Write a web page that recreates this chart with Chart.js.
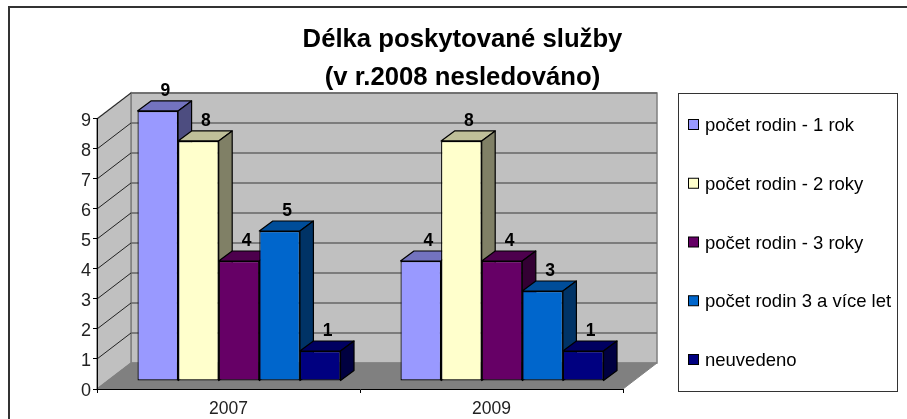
<!DOCTYPE html>
<html>
<head>
<meta charset="utf-8">
<title>Délka poskytované služby</title>
<script src="https://cdn.jsdelivr.net/npm/chart.js@4/dist/chart.umd.js"></script>
<style>
  html, body { margin: 0; padding: 0; background: #fff; }
  .chart-box { position: relative; width: 907px; height: 419px; }
</style>
</head>
<body>
<div class="chart-box"><canvas id="chart"></canvas></div>
<script>
const years = ['2007', '2009'];
const seriesNames = ['počet rodin - 1 rok', 'počet rodin - 2 roky', 'počet rodin - 3 roky', 'počet rodin 3 a více let', 'neuvedeno'];
const oneYear = [9, 4];
const twoYears = [8, 8];
const threeYears = [4, 4];
const threePlus = [5, 3];
const notGiven = [1, 1];
const seriesValues = [oneYear, twoYears, threeYears, threePlus, notGiven];
const frontColors = ['#9999ff', '#ffffcc', '#660066', '#0066cc', '#000080'];
const topColors = ['#7373bf', '#bfbf99', '#4d004d', '#004d99', '#000060'];
const sideColors = ['#4d4d80', '#808066', '#330033', '#003366', '#000040'];
const titleLines = ['Délka poskytované služby', '(v r.2008 nesledováno)'];

const FONT = '"Liberation Sans", Arial, sans-serif';
// 3d look: how far the back wall and the bars are pushed from the front plane
const wallDx = 34, wallDy = -26;
const barDx = 10.5, barDy = -8;
const sideDx = 13.5, sideDy = -10;

function fillPoly(ctx, pts, fill, stroke, lineW) {
  ctx.beginPath();
  pts.forEach((p, i) => (i ? ctx.lineTo(p[0], p[1]) : ctx.moveTo(p[0], p[1])));
  ctx.closePath();
  ctx.fillStyle = fill;
  ctx.fill();
  if (stroke) {
    ctx.strokeStyle = stroke;
    ctx.lineWidth = lineW;
    ctx.stroke();
  }
}

function drawLine(ctx, x1, y1, x2, y2, color, lineW) {
  ctx.beginPath();
  ctx.moveTo(x1, y1);
  ctx.lineTo(x2, y2);
  ctx.strokeStyle = color;
  ctx.lineWidth = lineW;
  ctx.stroke();
}

const box3d = {
  id: 'box3d',
  afterLayout(chart) {
    // title is centred over the whole picture, not only the plot
    chart.titleBlock.left = 18;
    chart.titleBlock.right = 907;
    // the value labels sit a little under their ticks
    chart.scales.y.getLabelItems().forEach(item => { item.options.translation[1] += 2; });
  },
  beforeDraw(chart) {
    const ctx = chart.ctx;
    const { left, right, top, bottom } = chart.chartArea;
    ctx.save();

    // outer frame, cut by the right and bottom edge of the picture
    drawLine(ctx, 9, 419, 9, 7, '#333', 2);
    drawLine(ctx, 8, 7, 907, 7, '#333', 2);

    fillPoly(ctx, [[left + wallDx, top + wallDy], [right + wallDx, top + wallDy], [right + wallDx, bottom + wallDy], [left + wallDx, bottom + wallDy]], '#c0c0c0', '#808080', 1.5);
    fillPoly(ctx, [[left, top], [left + wallDx, top + wallDy], [left + wallDx, bottom + wallDy], [left, bottom]], '#c0c0c0', '#808080', 1.5);
    fillPoly(ctx, [[left, bottom], [left + wallDx, bottom + wallDy], [right + wallDx, bottom + wallDy], [right, bottom]], '#808080', '#808080', 1);

    const y = chart.scales.y;
    y.ticks.forEach(t => {
      if (t.value === 0) return;
      const py = y.getPixelForValue(t.value);
      drawLine(ctx, left, py, left + wallDx, py + wallDy, '#222', 1);
      drawLine(ctx, left + wallDx, py + wallDy, right + wallDx, py + wallDy, '#666', 1.5);
    });

    // legend box
    ctx.fillStyle = '#fff';
    ctx.fillRect(678, 93, 219, 298);
    ctx.strokeStyle = '#333';
    ctx.lineWidth = 1;
    ctx.strokeRect(678.5, 93.5, 219, 298);
    ctx.font = '18.5px ' + FONT;
    ctx.textBaseline = 'middle';
    seriesNames.forEach((name, i) => {
      const rowY = 125 + i * 58.75;
      ctx.fillStyle = frontColors[i];
      ctx.fillRect(688.5, rowY - 5.5, 10, 10);
      ctx.strokeStyle = '#000';
      ctx.strokeRect(688.5, rowY - 5.5, 10, 10);
      ctx.fillStyle = '#000';
      ctx.fillText(name, 705, rowY + 1);
    });
    ctx.restore();
  },
  beforeDatasetsDraw(chart) {
    // tops and sides go left to right so later bars cover earlier ones
    const ctx = chart.ctx;
    ctx.save();
    ctx.lineJoin = 'round';
    years.forEach((year, c) => {
      seriesNames.forEach((name, s) => {
        const bar = chart.getDatasetMeta(s).data[c];
        const x2 = bar.x + bar.width / 2 + barDx;
        const x1 = bar.x - bar.width / 2 + barDx;
        const yTop = bar.y + barDy;
        const yBase = bar.base + barDy;
        fillPoly(ctx, [[x1, yTop], [x1 + sideDx, yTop + sideDy], [x2 + sideDx, yTop + sideDy], [x2, yTop]], topColors[s], '#000', 1.2);
        fillPoly(ctx, [[x2, yTop], [x2 + sideDx, yTop + sideDy], [x2 + sideDx, yBase + sideDy], [x2, yBase]], sideColors[s], '#000', 1.2);
      });
    });
    ctx.restore();
  },
  beforeDatasetDraw(chart) {
    chart.ctx.save();
    chart.ctx.translate(barDx, barDy);
  },
  afterDatasetDraw(chart) {
    chart.ctx.restore();
  },
  afterDatasetsDraw(chart) {
    const ctx = chart.ctx;
    ctx.save();
    ctx.font = 'bold 17.5px ' + FONT;
    ctx.fillStyle = '#000';
    ctx.textAlign = 'center';
    ctx.textBaseline = 'middle';
    seriesValues.forEach((values, s) => {
      values.forEach((v, c) => {
        const bar = chart.getDatasetMeta(s).data[c];
        ctx.fillText(v, bar.x + barDx + 7.5, bar.y + barDy - 20);
      });
    });
    ctx.restore();
  },
};

new Chart(document.getElementById('chart'), {
  type: 'bar',
  data: {
    labels: years,
    datasets: seriesNames.map((name, i) => ({
      label: name,
      data: seriesValues[i],
      backgroundColor: frontColors[i],
      borderColor: '#000',
      borderWidth: 1.2,
      borderSkipped: false,
      clip: false,
    })),
  },
  options: {
    responsive: true,
    maintainAspectRatio: false,
    animation: false,
    layout: { padding: { left: 0, right: 284, top: 0, bottom: 0 } },
    datasets: { bar: { categoryPercentage: 0.772, barPercentage: 1 } },
    plugins: {
      legend: { display: false },
      tooltip: { enabled: false },
      title: {
        display: true,
        text: titleLines,
        color: '#000',
        font: { family: FONT, size: 25.7, weight: 'bold', lineHeight: 1.478 },
        padding: { top: 21, bottom: 22 },
      },
    },
    scales: {
      x: {
        afterFit: scale => { scale.height = 30; },
        border: { color: '#000', width: 1 },
        grid: { drawOnChartArea: false, color: '#000', tickLength: 4 },
        ticks: { color: '#222', font: { family: FONT, size: 17.5 }, padding: 6, maxRotation: 0 },
      },
      y: {
        min: 0,
        max: 9,
        afterFit: scale => { scale.width = 97; },
        border: { color: '#000', width: 1 },
        grid: { drawOnChartArea: false, color: '#000', tickLength: 4 },
        ticks: { stepSize: 1, color: '#222', font: { family: FONT, size: 18 }, padding: 2 },
      },
    },
  },
  plugins: [box3d],
});
</script>
</body>
</html>
